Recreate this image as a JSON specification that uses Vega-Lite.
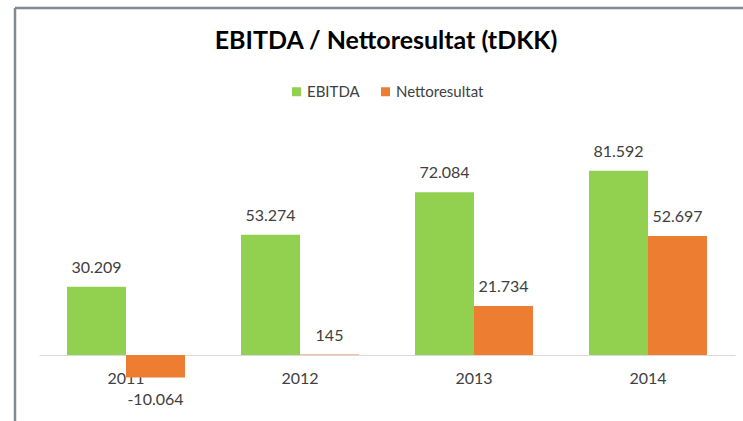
{
  "$schema": "https://vega.github.io/schema/vega-lite/v6.json",
  "width": 728,
  "height": 413,
  "padding": {"left": 15, "top": 8, "right": 0, "bottom": 0},
  "autosize": {"type": "none"},
  "background": "white",
  "title": {
    "text": "EBITDA / Nettoresultat (tDKK)",
    "font": "Lato",
    "fontSize": 25,
    "fontWeight": "bold",
    "color": "#000000",
    "anchor": "middle",
    "frame": "group",
    "baseline": "alphabetic",
    "offset": -41,
    "dx": 7,
    "dy": 25
  },
  "data": {
    "values": [
      {"year": "2011", "series": "EBITDA", "value": 30209},
      {"year": "2011", "series": "Nettoresultat", "value": -10064},
      {"year": "2012", "series": "EBITDA", "value": 53274},
      {"year": "2012", "series": "Nettoresultat", "value": 145},
      {"year": "2013", "series": "EBITDA", "value": 72084},
      {"year": "2013", "series": "Nettoresultat", "value": 21734},
      {"year": "2014", "series": "EBITDA", "value": 81592},
      {"year": "2014", "series": "Nettoresultat", "value": 52697}
    ]
  },
  "encoding": {
    "x": {
      "field": "year",
      "type": "nominal",
      "scale": {"range": [24, 720], "paddingInner": 0.322, "paddingOuter": 0.161},
      "axis": {
        "title": null,
        "orient": "bottom",
        "offset": -66,
        "ticks": false,
        "domainColor": "#d9d9d9",
        "domainWidth": 1,
        "labelAngle": 0,
        "labelFont": "Lato",
        "labelFontSize": 16,
        "labelColor": "#404040",
        "labelPadding": 15
      }
    },
    "xOffset": {
      "field": "series",
      "type": "nominal",
      "scale": {"domain": ["EBITDA", "Nettoresultat"], "paddingInner": 0, "paddingOuter": 0}
    },
    "y": {
      "field": "value",
      "type": "quantitative",
      "scale": {"domain": [-29300, 153800], "nice": false, "zero": false},
      "axis": null
    }
  },
  "layer": [
    {
      "mark": {"type": "bar"},
      "encoding": {
        "color": {
          "field": "series",
          "type": "nominal",
          "scale": {"domain": ["EBITDA", "Nettoresultat"], "range": ["#92D050", "#ED7D31"]},
          "legend": {
            "title": null,
            "orient": "none",
            "direction": "horizontal",
            "legendX": 274,
            "legendY": 76,
            "symbolType": "square",
            "symbolSize": 81,
            "symbolStrokeWidth": 0,
            "labelFont": "Lato",
            "labelFontSize": 15,
            "labelColor": "#404040",
            "labelOffset": 3,
            "columnPadding": 18
          }
        },
        "y2": {"datum": 0}
      }
    },
    {
      "transform": [{"filter": "datum.value >= 0"}],
      "mark": {"type": "text", "font": "Lato", "fontSize": 16, "color": "#404040", "baseline": "alphabetic", "dy": -14},
      "encoding": {"text": {"field": "value", "type": "quantitative", "format": ","}}
    },
    {
      "transform": [{"filter": "datum.value < 0"}],
      "mark": {"type": "text", "font": "Lato", "fontSize": 16, "color": "#404040", "baseline": "top", "dy": 14},
      "encoding": {"text": {"field": "value", "type": "quantitative", "format": ","}}
    }
  ],
  "config": {
    "font": "Lato",
    "locale": {"number": {"decimal": ",", "thousands": ".", "grouping": [3], "currency": ["", " kr."], "minus": "-"}},
    "view": {"stroke": "#818a8f", "strokeWidth": 2.5, "strokeDash": [728, 1141, 413, 0]}
  }
}
